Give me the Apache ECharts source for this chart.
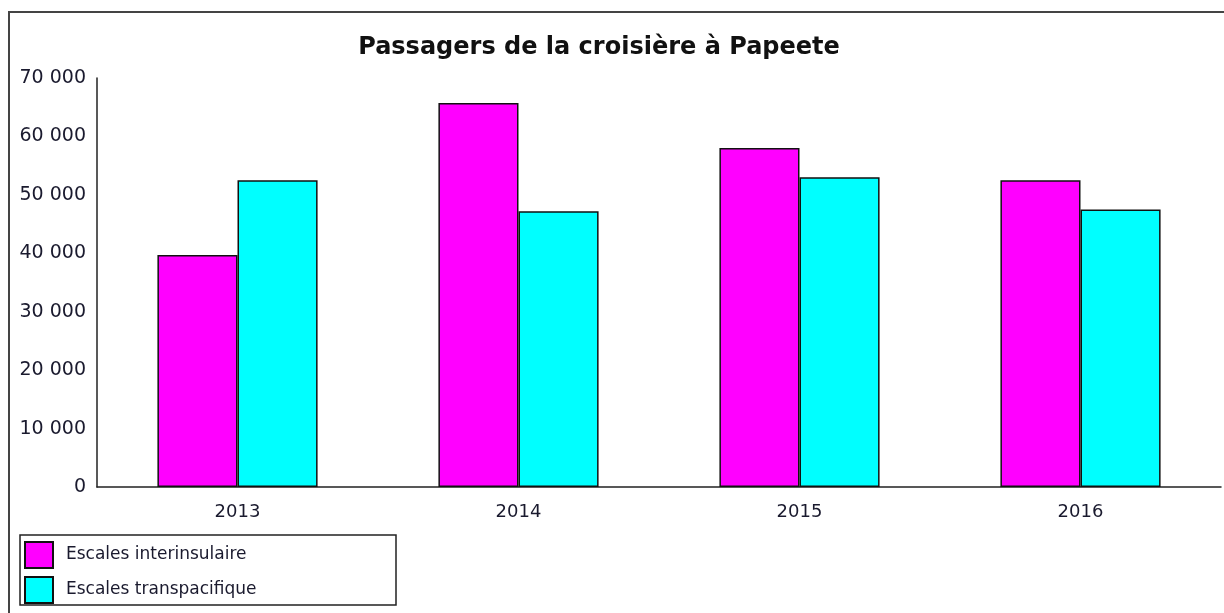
<!DOCTYPE html>
<html>
<head>
<meta charset="utf-8">
<title>Passagers de la croisière à Papeete</title>
<script src="https://cdn.jsdelivr.net/npm/echarts@6/dist/echarts.min.js"></script>
<style>
    html, body { margin: 0; padding: 0; background: #fff; }
    #chart { width: 1224px; height: 613px; }
</style>
</head>
<body>
<div id="chart"></div>
<script>
// 数据
var years = ['2013', '2014', '2015', '2016'];
var inter_vals = [39700, 65700, 58000, 52500];
var trans_vals = [52500, 47200, 53000, 47500];
var series_names = ['Escales interinsulaire', 'Escales transpacifique'];
var y_ticks = [0, 10000, 20000, 30000, 40000, 50000, 60000, 70000];

var font = 'DejaVu Sans';

// 千位空格
function fmt(v) {
    return String(v).replace(/\B(?=(\d{3})+(?!\d))/g, ' ');
}

var myChart = echarts.init(document.getElementById('chart'));
var option = {
    backgroundColor: '#fff',
    animation: false,
    title: {
        text: 'Passagers de la croisière à Papeete',
        left: 594,
        top: 31,
        textAlign: 'center',
        textStyle: { fontFamily: font, fontSize: 24, fontWeight: 'bold', color: '#111' }
    },
    grid: { left: 97, top: 78, right: 3, bottom: 126, containLabel: false },
    legend: {
        orient: 'vertical',
        left: 24,
        top: 541,
        height: 70,
        padding: 0,
        icon: 'rect',
        itemWidth: 28,
        itemHeight: 26,
        itemGap: 7,
        data: series_names,
        textStyle: { fontFamily: font, fontSize: 17, color: '#1a1a2e', padding: [0, 0, 0, 8] }
    },
    xAxis: {
        type: 'category',
        data: years,
        axisLine: { lineStyle: { color: '#222', width: 1.5 } },
        axisTick: { show: false },
        axisLabel: { fontFamily: font, fontSize: 18, color: '#1a1a2e', margin: 16 }
    },
    yAxis: {
        type: 'value',
        min: y_ticks[0],
        max: y_ticks[y_ticks.length - 1],
        interval: 10000,
        axisLine: { show: true, lineStyle: { color: '#222', width: 1.5 } },
        axisTick: { show: false },
        splitLine: { show: false },
        axisLabel: { fontFamily: font, fontSize: 19, color: '#1a1a2e', margin: 11, formatter: fmt }
    },
    series: [{
        name: series_names[0],
        type: 'bar',
        data: inter_vals,
        barGap: 0,
        barCategoryGap: '43%',
        itemStyle: { color: '#ff00ff', borderColor: '#111', borderWidth: 1.5 }
    }, {
        name: series_names[1],
        type: 'bar',
        data: trans_vals,
        itemStyle: { color: '#00ffff', borderColor: '#111', borderWidth: 1.5 }
    }],
    graphic: [{
        // 外框
        type: 'rect',
        shape: { x: 9, y: 12, width: 1400, height: 800 },
        style: { fill: null, stroke: '#444', lineWidth: 2 },
        silent: true
    }, {
        // 图例框
        type: 'rect',
        shape: { x: 20, y: 535, width: 376, height: 70 },
        style: { fill: null, stroke: '#222', lineWidth: 1.5 },
        silent: true
    }]
};
myChart.setOption(option);
</script>
</body>
</html>
